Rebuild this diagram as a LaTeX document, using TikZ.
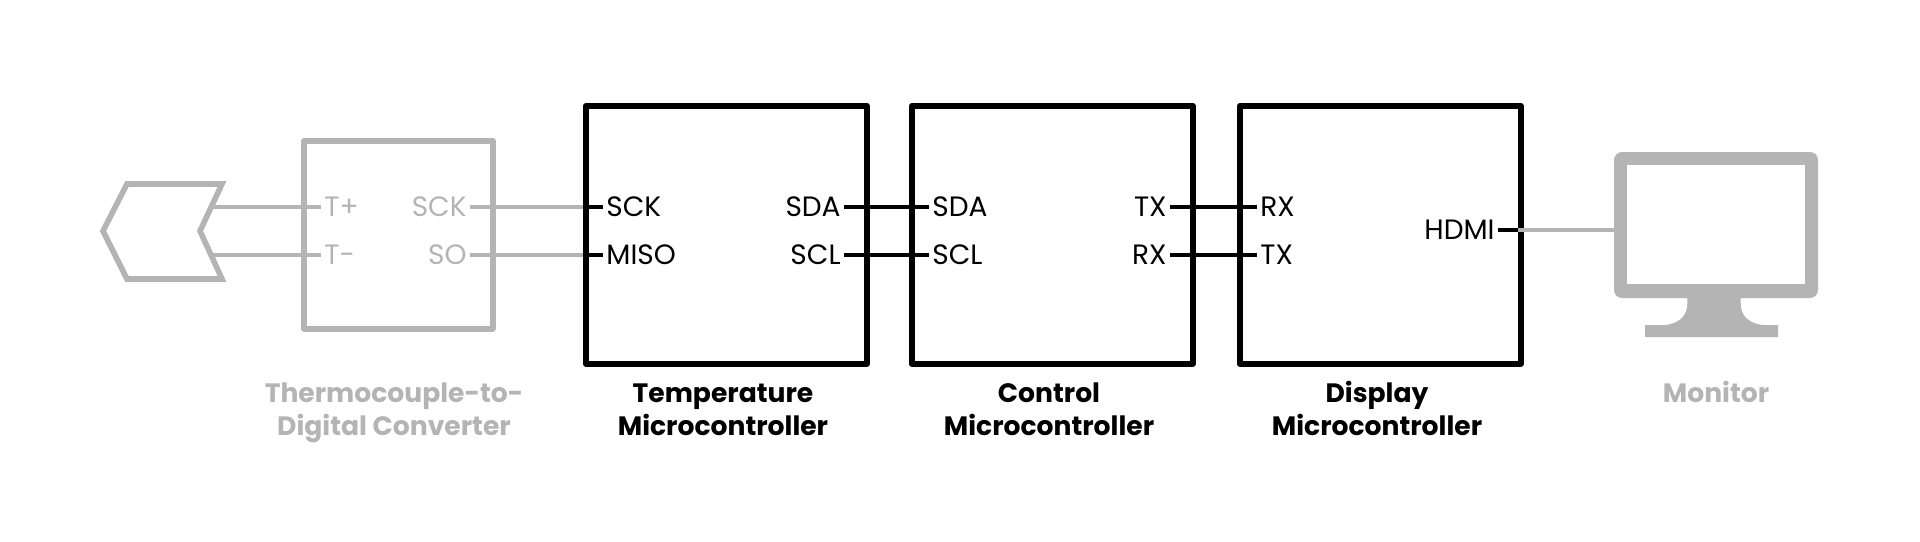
\documentclass[tikz,border=0pt]{standalone}
\usepackage{fontspec}
\setmainfont{Poppins}
\usetikzlibrary{positioning}

\definecolor{faded}{RGB}{180,180,180}

\tikzset{
    block/.style = {draw, line width=2.8pt, minimum width=140.5pt, minimum height=129pt, anchor=north west},
    pin/.style   = {font=\fontsize{14}{15}\selectfont, inner sep=1.5pt},
    title/.style = {font=\fontsize{13.3}{16.5}\selectfont\bfseries, anchor=base, inner sep=0pt},
    wire/.style  = {line width=1.9pt},
}

\begin{document}
\begin{tikzpicture}[x=0.5pt, y=-0.5pt, line join = round]
    \useasboundingbox (0,0) rectangle (1920,541);

    % microcontrollers
    \node[block] (temp) at (583,103) {};
    \node[block] (ctrl) at (909,103) {};
    \node[block] (disp) at (1237,103) {};

    % converter
    \node[block, draw=faded, minimum width=94.5pt, minimum height=94pt] (conv) at (301,138) {};

    % thermocouple tip
    \draw[faded, line width=2.8pt, line join=miter] (103,231) -- (127,184) -- (222,184) -- (200,231)
        -- (222,279) -- (127,279) -- cycle;
    \coordinate (tpA) at (211,207);
    \coordinate (tpB) at (211,255);

    % monitor
    \fill[faded, rounded corners=4pt] (1614,152) rectangle (1818,298);
    \fill[white] (1627,165) rectangle (1805,284);
    \fill[faded] (1687,296) -- (1741,296) .. controls (1739,312) and (1744,322) .. (1762,325)
        -- (1778,325) -- (1778,337) -- (1645,337) -- (1645,325) -- (1666,325)
        .. controls (1684,322) and (1689,312) .. cycle;
    \coordinate (monin) at (1614,230);

    % pin stubs
    \foreach \name/\x/\y/\d/\c in {tpl/301/207/1/faded, tml/301/255/1/faded,
                                   csck/490/207/-1/faded, cso/490/255/-1/faded,
                                   tsck/583/207/1/black, tmiso/583/255/1/black,
                                   tsda/864/207/-1/black, tscl/864/255/-1/black,
                                   csda/909/207/1/black, cscl/909/255/1/black,
                                   ctx/1190/207/-1/black, crx/1190/255/-1/black,
                                   drx/1237/207/1/black, dtx/1237/255/1/black,
                                   hdmi/1518/230/-1/black}
    {
        \coordinate (\name) at (\x,\y);
        \coordinate (\name-in) at (\x+\d*20,\y);
        \draw[wire, \c] (\name) -- (\name-in);
    }

    % pin labels
    \node[pin, faded, right=0pt of tpl-in] {T+};
    \node[pin, faded, right=0pt of tml-in] {T-};
    \node[pin, faded, left=0pt of csck-in] {SCK};
    \node[pin, faded, left=0pt of cso-in] {SO};
    \node[pin, right=0pt of tsck-in] {SCK};
    \node[pin, right=0pt of tmiso-in] {MISO};
    \node[pin, left=0pt of tsda-in] {SDA};
    \node[pin, left=0pt of tscl-in] {SCL};
    \node[pin, right=0pt of csda-in] {SDA};
    \node[pin, right=0pt of cscl-in] {SCL};
    \node[pin, left=0pt of ctx-in] {TX};
    \node[pin, left=0pt of crx-in] {RX};
    \node[pin, right=0pt of drx-in] {RX};
    \node[pin, right=0pt of dtx-in] {TX};
    \node[pin, left=0pt of hdmi-in] {HDMI};

    % connections
    \draw[wire, faded] (tpA) -- (tpl);
    \draw[wire, faded] (tpB) -- (tml);
    \draw[wire, faded] (csck) -- (tsck);
    \draw[wire, faded] (cso) -- (tmiso);
    \draw[wire] (tsda) -- (csda);
    \draw[wire] (tscl) -- (cscl);
    \draw[wire] (ctx) -- (drx);
    \draw[wire] (crx) -- (dtx);
    \draw[wire, faded] (hdmi) -- (monin);

    % titles
    \foreach \name/\x/\c/\one/\two in {conv/394/faded/Thermocouple-to-/Digital Converter,
                                       temp/723/black/Temperature/Microcontroller,
                                       ctrl/1049/black/Control/Microcontroller,
                                       disp/1377/black/Display/Microcontroller}
    {
        \node[title, text=\c] (\name-t1) at (\x,402) {\one};
        \node[title, text=\c] (\name-t2) at (\x,435) {\two};
    }
    \node[title, text=faded] (mon-t1) at (1716,402) {Monitor};
\end{tikzpicture}
\end{document}
